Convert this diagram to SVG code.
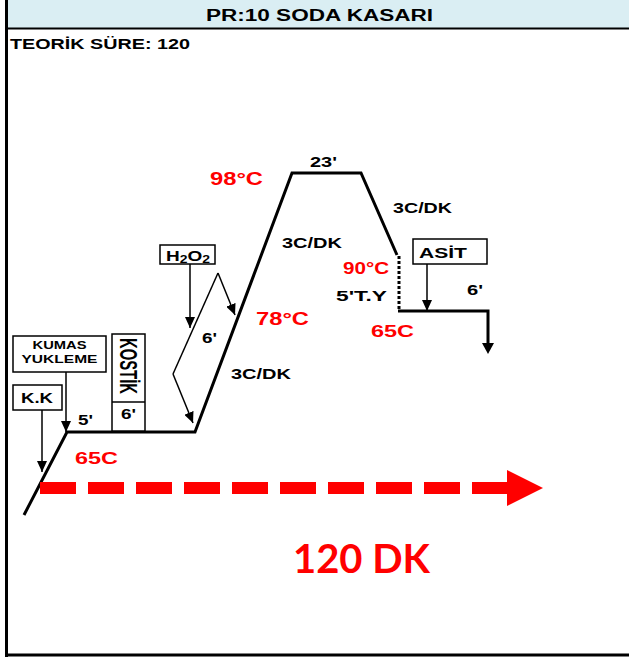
<svg xmlns="http://www.w3.org/2000/svg" width="629" height="657" viewBox="0 0 629 657">
<style>
.t{font-family:"Liberation Sans",Arial,sans-serif;font-weight:bold;fill:#000}
.r{fill:#FF0000}
.box{fill:#fff;stroke:#000;stroke-width:1.5}
.main{fill:none;stroke:#000;stroke-width:3}
.thin{fill:none;stroke:#000;stroke-width:1.5}
</style>
<defs>
<marker id="ah" markerUnits="userSpaceOnUse" markerWidth="12" markerHeight="10" refX="11" refY="5" orient="auto">
<path d="M0,0 L11,5 L0,10 z" fill="#000"/>
</marker>
</defs>
<rect x="0" y="0" width="629" height="657" fill="#fff"/>
<g id="header">
<rect x="6" y="0" width="623" height="28" fill="#DAEEF3"/>
<line x1="6" y1="28.5" x2="629" y2="28.5" stroke="#000" stroke-width="2"/>
<text class="t" x="206" y="21" font-size="16" textLength="227" lengthAdjust="spacingAndGlyphs">PR:10 SODA KASARI</text>
</g>
<g id="frame">
<line x1="6.5" y1="0" x2="6.5" y2="657" stroke="#000" stroke-width="3"/>
<line x1="5" y1="655" x2="629" y2="655" stroke="#000" stroke-width="3"/>
</g>
<text class="t" x="10" y="49" font-size="15" textLength="180" lengthAdjust="spacingAndGlyphs">TEORİK SÜRE: 120</text>
<g id="connectors">
<polyline class="main" points="24,515 67,432 195,432 292,173 361,173 397,255"/>
<line x1="399" y1="256" x2="399" y2="311" stroke="#000" stroke-width="3" stroke-dasharray="3,2"/>
<polyline class="main" points="398,311 488,311 488,344"/>
<path d="M482,343 L494,343 L488,354 z" fill="#000"/>
<line class="thin" x1="66" y1="372" x2="66" y2="432" marker-end="url(#ah)"/>
<line class="thin" x1="42" y1="410" x2="42" y2="472" marker-end="url(#ah)"/>
<line class="thin" x1="190" y1="264" x2="190" y2="328" marker-end="url(#ah)"/>
<line class="thin" x1="427" y1="264" x2="427" y2="311" marker-end="url(#ah)"/>
<line class="thin" x1="218" y1="273" x2="173" y2="374"/>
<line class="thin" x1="218" y1="273" x2="235" y2="315" marker-end="url(#ah)"/>
<line class="thin" x1="173" y1="374" x2="193" y2="423" marker-end="url(#ah)"/>
</g>
<g id="time-arrow">
<line x1="40" y1="488" x2="508" y2="488" stroke="#FF0000" stroke-width="12" stroke-dasharray="36,12"/>
<path d="M507,470 L543,488 L507,506 z" fill="#FF0000"/>
</g>
<g id="kumas">
<rect class="box" x="13" y="336" width="93" height="36"/>
<text class="t" x="59.5" y="349" font-size="10" text-anchor="middle" textLength="54" lengthAdjust="spacingAndGlyphs">KUMAS</text>
<text class="t" x="59.5" y="363" font-size="10" text-anchor="middle" textLength="76" lengthAdjust="spacingAndGlyphs">YUKLEME</text>
</g>
<g id="kk">
<rect class="box" x="13" y="385" width="49" height="25"/>
<text class="t" x="37" y="403" font-size="14" text-anchor="middle" textLength="32" lengthAdjust="spacingAndGlyphs">K.K</text>
</g>
<g id="kostik">
<rect class="box" x="112" y="334" width="33" height="97"/>
<line x1="112" y1="402" x2="145" y2="402" stroke="#000" stroke-width="1.5"/>
<text class="t" transform="translate(120,338) rotate(90)" x="0" y="0" font-size="23" textLength="56" lengthAdjust="spacingAndGlyphs">KOSTİK</text>
<text class="t" x="128.5" y="419" font-size="15" text-anchor="middle" textLength="15" lengthAdjust="spacingAndGlyphs">6'</text>
</g>
<g id="h2o2">
<rect class="box" x="160" y="245" width="55" height="19"/>
<text class="t" x="166" y="261" font-size="15" textLength="44" lengthAdjust="spacingAndGlyphs">H<tspan font-size="11" dy="2">2</tspan><tspan dy="-2">O</tspan><tspan font-size="11" dy="2">2</tspan></text>
</g>
<g id="asit">
<rect class="box" x="413" y="239" width="74" height="25"/>
<text class="t" x="419" y="258" font-size="15" textLength="48" lengthAdjust="spacingAndGlyphs">ASİT</text>
</g>
<g id="labels">
<text class="t" x="78" y="425" font-size="14" textLength="15" lengthAdjust="spacingAndGlyphs">5'</text>
<text class="t r" x="75" y="464" font-size="17" textLength="43" lengthAdjust="spacingAndGlyphs">65C</text>
<text class="t" x="202" y="343" font-size="14" textLength="15" lengthAdjust="spacingAndGlyphs">6'</text>
<text class="t r" x="210" y="185" font-size="18" textLength="53" lengthAdjust="spacingAndGlyphs">98°C</text>
<text class="t" x="310" y="167" font-size="14" textLength="27" lengthAdjust="spacingAndGlyphs">23'</text>
<text class="t" x="393" y="213" font-size="14" textLength="59" lengthAdjust="spacingAndGlyphs">3C/DK</text>
<text class="t" x="282" y="248" font-size="14" textLength="60" lengthAdjust="spacingAndGlyphs">3C/DK</text>
<text class="t r" x="256" y="325" font-size="18" textLength="53" lengthAdjust="spacingAndGlyphs">78°C</text>
<text class="t" x="231" y="379" font-size="14" textLength="60" lengthAdjust="spacingAndGlyphs">3C/DK</text>
<text class="t r" x="343" y="274" font-size="16" textLength="46" lengthAdjust="spacingAndGlyphs">90°C</text>
<text class="t" x="336" y="301" font-size="14" textLength="51" lengthAdjust="spacingAndGlyphs">5'T.Y</text>
<text class="t r" x="371" y="337" font-size="16" textLength="43" lengthAdjust="spacingAndGlyphs">65C</text>
<text class="t" x="467" y="295" font-size="14" textLength="16" lengthAdjust="spacingAndGlyphs">6'</text>
<text x="293" y="573" font-family="Lato,'Open Sans',sans-serif" font-weight="bold" font-size="40" fill="#FF0000" textLength="137" lengthAdjust="spacingAndGlyphs">120 DK</text>
</g>
</svg>
